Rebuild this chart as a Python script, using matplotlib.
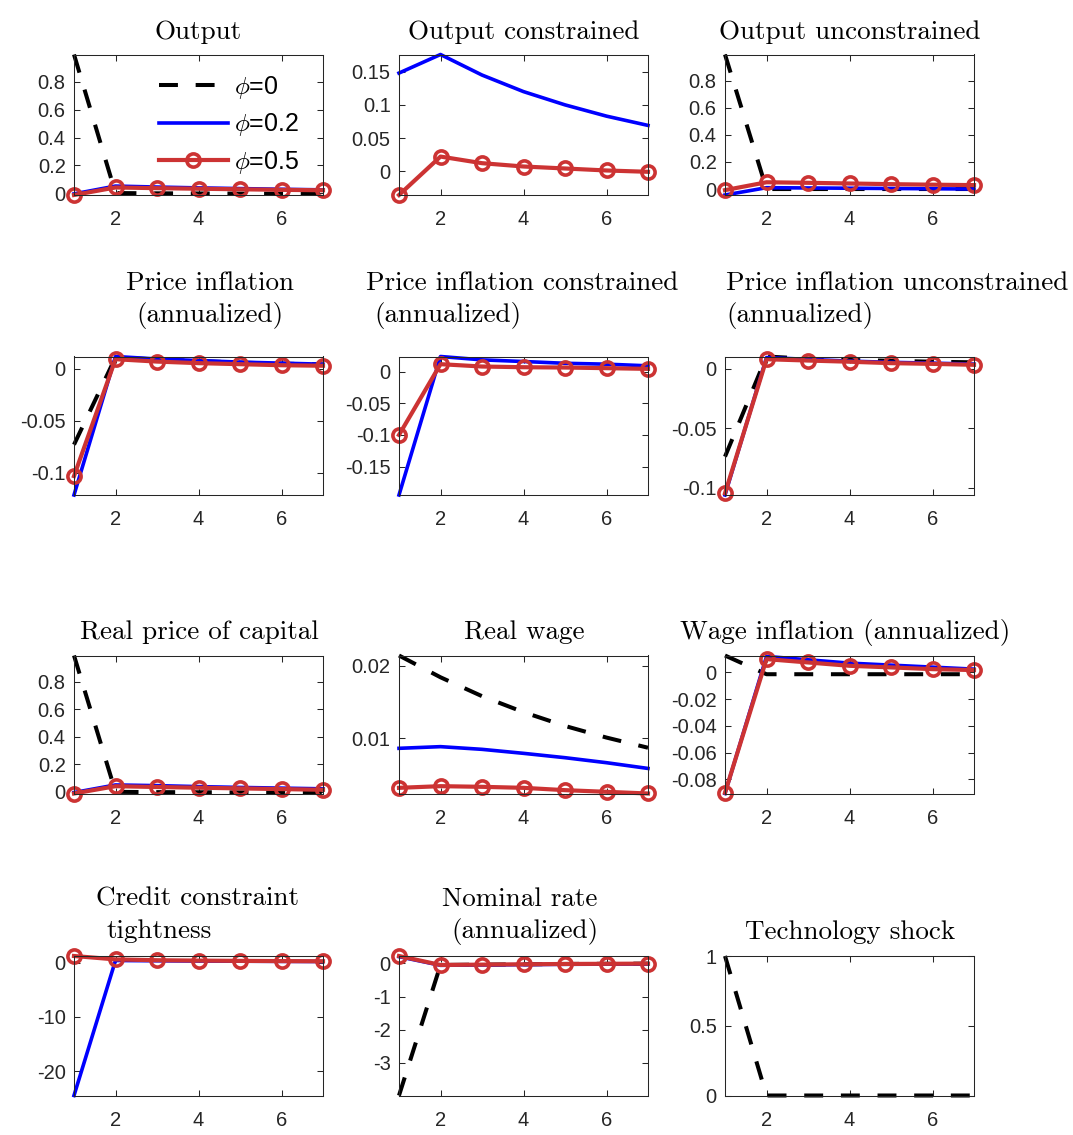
import matplotlib
matplotlib.use("Agg")
import matplotlib.pyplot as plt
from matplotlib.ticker import FuncFormatter, FixedLocator

plt.rcParams["mathtext.fontset"] = "cm"
plt.rcParams["font.family"] = ["Liberation Sans", "DejaVu Sans"]

# ---------------------------------------------------------------- data
periods = [1, 2, 3, 4, 5, 6, 7]
legend_labels = [r"$\phi$=0", r"$\phi$=0.2", r"$\phi$=0.5"]

output_phi0 = [0.996, 0.002, 0.0, -0.001, -0.002, -0.003, -0.003]
output_phi02 = [-0.004, 0.052, 0.045, 0.039, 0.034, 0.029, 0.025]
output_phi05 = [-0.012, 0.042, 0.037, 0.033, 0.029, 0.025, 0.022]

output_con_phi02 = [0.148, 0.176, 0.145, 0.120, 0.100, 0.083, 0.069]
output_con_phi05 = [-0.036, 0.022, 0.012, 0.007, 0.004, 0.001, -0.001]

output_unc_phi0 = [0.993, 0.0, 0.0, 0.0, 0.0, 0.0, 0.0]
output_unc_phi02 = [-0.044, 0.010, 0.008, 0.006, 0.004, 0.002, 0.0]
output_unc_phi05 = [-0.008, 0.050, 0.046, 0.041, 0.036, 0.032, 0.029]

infl_phi0 = [-0.073, 0.011, 0.009, 0.0075, 0.006, 0.005, 0.0042]
infl_phi02 = [-0.1215, 0.0119, 0.0095, 0.008, 0.0065, 0.0055, 0.0045]
infl_phi05 = [-0.1033, 0.0093, 0.007, 0.0055, 0.0045, 0.0035, 0.003]

infl_con_phi02 = [-0.1947, 0.0237, 0.0184, 0.0158, 0.013, 0.0116, 0.009]
infl_con_phi05 = [-0.100, 0.0116, 0.0079, 0.0068, 0.0063, 0.0053, 0.0042]

infl_unc_phi0 = [-0.0739, 0.0104, 0.0085, 0.0075, 0.0068, 0.006, 0.0055]
infl_unc_phi02 = [-0.1062, 0.0095, 0.008, 0.0065, 0.0055, 0.0048, 0.004]
infl_unc_phi05 = [-0.1048, 0.0081, 0.007, 0.006, 0.0048, 0.0042, 0.0034]

qk_phi0 = [0.989, 0.0, -0.002, -0.003, -0.004, -0.005, -0.005]
qk_phi02 = [-0.005, 0.050, 0.045, 0.038, 0.032, 0.027, 0.022]
qk_phi05 = [-0.012, 0.041, 0.035, 0.030, 0.025, 0.020, 0.015]

wage_phi0 = [0.0214, 0.0184, 0.0158, 0.0136, 0.0117, 0.0101, 0.0087]
wage_phi02 = [0.00862, 0.00885, 0.00848, 0.00793, 0.00733, 0.00664, 0.00585]
wage_phi05 = [0.00318, 0.00341, 0.00332, 0.00318, 0.00286, 0.00263, 0.0024]

winfl_phi0 = [0.0127, -0.0013, -0.0013, -0.0013, -0.0013, -0.0013, -0.0013]
winfl_phi02 = [-0.0905, 0.012, 0.0095, 0.007, 0.0055, 0.004, 0.0025]
winfl_phi05 = [-0.090, 0.010, 0.0075, 0.005, 0.0038, 0.0025, 0.0018]

credit_phi02 = [-24.5, 0.40, 0.35, 0.30, 0.27, 0.24, 0.21]
credit_phi05 = [1.23, 0.60, 0.45, 0.38, 0.33, 0.29, 0.26]

rate_phi0 = [-3.98, -0.05, -0.04, -0.03, -0.02, -0.015, -0.01]
rate_phi02 = [0.20, -0.06, -0.05, -0.04, -0.03, -0.025, -0.02]
rate_phi05 = [0.22, -0.05, -0.04, -0.03, -0.02, -0.015, -0.01]

tech_phi0 = [1.0, 0.0, 0.0, 0.0, 0.0, 0.0, 0.0]

# ---------------------------------------------------------------- layout
W, H = 1073, 1135
fig = plt.figure(figsize=(W / 100, H / 100), dpi=100)

col_left = [74, 399, 725]
col_width = 249
row_top = [54.5, 356.5, 655.5, 956]
row_bottom = [195, 495, 793.5, 1095.5]

# (title lines as (text, centre x px, baseline y px)), series, y ticks
panels = [
    ([("Output", 198.5, 39)],
     (output_phi0, output_phi02, output_phi05), [0, 0.2, 0.4, 0.6, 0.8]),
    ([("Output constrained", 524, 39)],
     (None, output_con_phi02, output_con_phi05), [0, 0.05, 0.1, 0.15]),
    ([("Output unconstrained", 850, 39)],
     (output_unc_phi0, output_unc_phi02, output_unc_phi05), [0, 0.2, 0.4, 0.6, 0.8]),
    ([("Price inflation", 210.5, 290), ("(annualized)", 209.5, 322)],
     (infl_phi0, infl_phi02, infl_phi05), [-0.1, -0.05, 0]),
    ([("Price inflation constrained", 522.5, 290), ("(annualized)", 447.5, 322)],
     (None, infl_con_phi02, infl_con_phi05), [-0.15, -0.1, -0.05, 0]),
    ([("Price inflation unconstrained", 897.5, 290), ("(annualized)", 800, 322)],
     (infl_unc_phi0, infl_unc_phi02, infl_unc_phi05), [-0.1, -0.05, 0]),
    ([("Real price of capital", 199, 639)],
     (qk_phi0, qk_phi02, qk_phi05), [0, 0.2, 0.4, 0.6, 0.8]),
    ([("Real wage", 524, 639)],
     (wage_phi0, wage_phi02, wage_phi05), [0.01, 0.02]),
    ([("Wage inflation (annualized)", 845, 639)],
     (winfl_phi0, winfl_phi02, winfl_phi05), [-0.08, -0.06, -0.04, -0.02, 0]),
    ([("Credit constraint", 198, 906), ("tightness", 159.5, 938)],
     (None, credit_phi02, credit_phi05), [-20, -10, 0]),
    ([("Nominal rate", 520, 906), ("(annualized)", 525, 938)],
     (rate_phi0, rate_phi02, rate_phi05), [-3, -2, -1, 0]),
    ([("Technology shock", 850.5, 939)],
     (tech_phi0, None, None), [0, 0.5, 1]),
]

axis_col = "#262626"
blue = "#0000FF"
red = "#CC3333"

styles = [
    dict(color="black", lw=2.9, linestyle=(0, (4.7, 4.4)), dash_capstyle="butt"),
    dict(color=blue, lw=2.6),
    dict(color=red, lw=3.0, marker="o", ms=9.5, mew=2.6, mfc="none", mec=red),
]

fmt = FuncFormatter(lambda v, pos: "%g" % v)
first_ax = None
for i, (title_lines, series, yticks) in enumerate(panels):
    r, c = divmod(i, 3)
    left = col_left[c] / W
    bottom = 1 - row_bottom[r] / H
    height = (row_bottom[r] - row_top[r]) / H
    ax = fig.add_axes([left, bottom, col_width / W, height])
    for vals, st in zip(series, styles):
        if vals is None:
            continue
        ax.plot(periods, vals, clip_on=False, **st)
    allv = [v for s in series if s is not None for v in s]
    ax.set_xlim(1, 7)
    ax.set_ylim(min(allv), max(allv))
    ax.xaxis.set_major_locator(FixedLocator([2, 4, 6]))
    ax.yaxis.set_major_locator(FixedLocator(yticks))
    ax.yaxis.set_major_formatter(fmt)
    ax.tick_params(direction="in", top=True, right=True, length=4.5, width=0.75,
                   color=axis_col, labelcolor=axis_col, labelsize=14.5)
    ax.tick_params(axis="x", pad=11)
    ax.tick_params(axis="y", pad=6)
    for sp in ax.spines.values():
        sp.set_color(axis_col)
        sp.set_linewidth(0.75)
    for txt, cx, by in title_lines:
        fig.text(cx / W, 1 - by / H, txt, ha="center", va="baseline",
                 family="cmr10", fontsize=19.5, color="black")
    if i == 0:
        first_ax = ax

leg_handles = []
for st, lab in zip(styles, legend_labels):
    ln, = first_ax.plot([], [], label=lab, **st)
    leg_handles.append(ln)
first_ax.legend(handles=leg_handles, loc="upper left",
                bbox_to_anchor=(159 / W, 1 - 74 / H), bbox_transform=fig.transFigure,
                frameon=False, fontsize=18, handlelength=2.75, handletextpad=0.25,
                labelspacing=0.42, borderpad=0, borderaxespad=0)

fig.savefig("out.png", dpi=100, facecolor="white")
